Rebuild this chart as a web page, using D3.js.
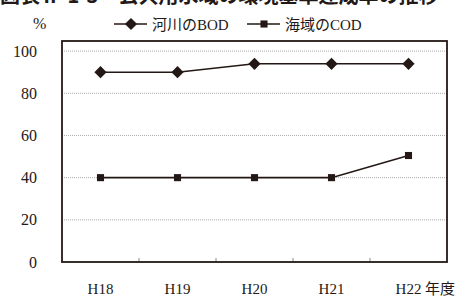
<!DOCTYPE html>
<html>
<head>
<meta charset="utf-8">
<script src="https://cdn.jsdelivr.net/npm/d3@7"></script>
<style>
body { margin: 0; background: #fff; }
</style>
</head>
<body>
<svg id="chart" width="463" height="298"></svg>
<script>
// 年度と達成率(%)
var years = ["H18", "H19", "H20", "H21", "H22"];
var riverBOD = [90, 90, 94, 94, 94];
var seaCOD = [40, 40, 40, 40, 50.5];
var yTicks = [0, 20, 40, 60, 80, 100];
var titleText = "図表Ⅱ-1-3　公共用水域の環境基準達成率の推移";

var ink = "#231815";
var serif = "'Liberation Serif', serif";
var jp = "'Noto Sans CJK JP', sans-serif";
var svg = d3.select("#chart");

// 上で切れているタイトル
svg.append("text")
	.attr("x", 0)
	.attr("y", 3)
	.style("font-size", "20px")
	.style("font-weight", "bold")
	.style("font-family", jp)
	.attr("fill", ink)
	.text(titleText);

var mLeft = 62, mRight = 447, mTop = 41, mBottom = 262;

var xScale = d3.scaleBand()
	.domain(years)
	.range([mLeft, mRight]);

var yScale = d3.scaleLinear()
	.domain([0, 104.8])
	.range([mBottom, mTop]);

// grid
svg.append("g")
	.selectAll("line")
	.data(yTicks.filter(function(d){ return d > 0; }))
	.enter().append("line")
	.attr("x1", mLeft).attr("x2", mRight)
	.attr("y1", function(d){ return yScale(d); })
	.attr("y2", function(d){ return yScale(d); })
	.attr("stroke", "#999")
	.attr("stroke-width", 0.8)
	.attr("stroke-dasharray", "1,1");

// x ticks (inside, between categories)
svg.append("g")
	.selectAll("line")
	.data(years.slice(1))
	.enter().append("line")
	.attr("x1", function(d){ return xScale(d); })
	.attr("x2", function(d){ return xScale(d); })
	.attr("y1", mBottom).attr("y2", mBottom - 4)
	.attr("stroke", "#888")
	.attr("stroke-width", 1);

// frame
svg.append("rect")
	.attr("x", mLeft).attr("y", mTop)
	.attr("width", mRight - mLeft).attr("height", mBottom - mTop)
	.attr("fill", "none")
	.attr("stroke", ink)
	.attr("stroke-width", 1.8);

// y labels
svg.append("g")
	.selectAll("text")
	.data(yTicks)
	.enter().append("text")
	.attr("x", 37)
	.attr("y", function(d){ return yScale(d); })
	.attr("dy", "0.35em")
	.attr("text-anchor", "end")
	.style("font-size", "16px")
	.style("font-family", serif)
	.attr("fill", ink)
	.text(function(d){ return d; });

svg.append("text")
	.attr("x", 33).attr("y", 29)
	.style("font-size", "16px")
	.style("font-family", serif)
	.attr("fill", ink)
	.text("%");

// x labels
svg.append("g")
	.selectAll("text")
	.data(years)
	.enter().append("text")
	.attr("x", function(d){ return xScale(d) + xScale.bandwidth() / 2; })
	.attr("y", 294)
	.attr("text-anchor", "middle")
	.style("font-size", "15px")
	.style("font-family", serif)
	.attr("fill", ink)
	.text(function(d){ return d; });

svg.append("text")
	.attr("x", 425).attr("y", 294)
	.style("font-size", "15px")
	.style("font-family", jp)
	.attr("fill", ink)
	.text("年度");

var line = d3.line()
	.x(function(d, i){ return xScale(years[i]) + xScale.bandwidth() / 2; })
	.y(function(d){ return yScale(d); });

var diamond = d3.symbol().type(d3.symbolDiamond2).size(95);
var square = d3.symbol().type(d3.symbolSquare2).size(64);

function drawSeries(data, sym) {
	svg.append("path")
		.attr("d", line(data))
		.attr("fill", "none")
		.attr("stroke", ink)
		.attr("stroke-width", 1.6);
	svg.append("g")
		.selectAll("path")
		.data(data)
		.enter().append("path")
		.attr("d", sym)
		.attr("transform", function(d, i){
			return "translate(" + (xScale(years[i]) + xScale.bandwidth() / 2) + "," + yScale(d) + ")";
		})
		.attr("fill", ink);
}
drawSeries(riverBOD, diamond);
drawSeries(seaCOD, square);

// legend
var legend = [
	{ name: ["河川の", "BOD"], sym: diamond, x: 114 },
	{ name: ["海域の", "COD"], sym: square, x: 247 }
];
legend.forEach(function(l){
	svg.append("line")
		.attr("x1", l.x).attr("x2", l.x + 33)
		.attr("y1", 24).attr("y2", 24)
		.attr("stroke", ink).attr("stroke-width", 1.6);
	svg.append("path")
		.attr("d", l.sym)
		.attr("transform", "translate(" + (l.x + 17) + ",24)")
		.attr("fill", ink);
	var t = svg.append("text")
		.attr("x", l.x + 38).attr("y", 30)
		.attr("fill", ink);
	t.append("tspan").style("font-family", jp).style("font-size", "15px").text(l.name[0]);
	t.append("tspan").style("font-family", serif).style("font-size", "15px").text(l.name[1]);
});
</script>
</body>
</html>
